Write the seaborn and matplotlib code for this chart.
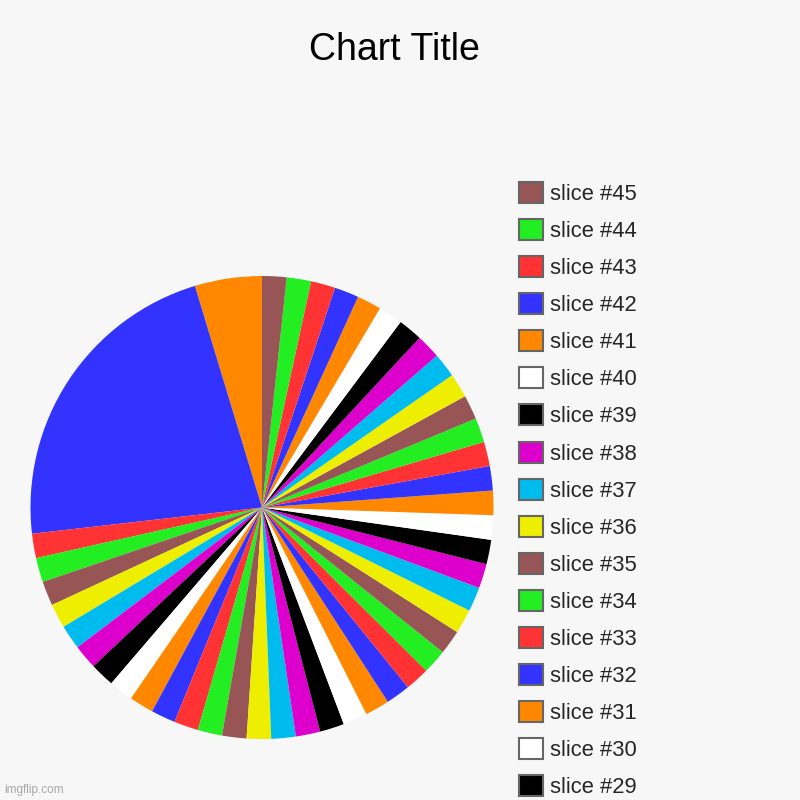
import matplotlib
matplotlib.use('Agg')
import matplotlib.pyplot as plt
from matplotlib.patches import Patch
import seaborn as sns

# slice labels and values (slice #1 starts at 12 o'clock, counter-clockwise)
labels = ['slice #%d' % i for i in range(1, 46)]
values = [2.75, 13,
          1, 1, 1, 1, 1, 1, 1, 1, 1, 1,
          1, 1, 1, 1, 1, 1, 1, 1, 1, 1,
          1, 1, 1, 1, 1, 1, 1, 1, 1, 1,
          1, 1, 1, 1, 1, 1, 1, 1, 1, 1,
          1, 1, 1]
palette = ['#ff8800', '#3333ff', '#ff3333', '#22ee22', '#975555',
           '#eeee00', '#00bbee', '#dd00cc', '#000000', '#ffffff']
colors = [palette[i % len(palette)] for i in range(len(labels))]
# legend lists slices from #45 down; only #45..#29 fit on the canvas
n_legend = 17

bg = '#f7f7f7'
sns.set_style('white')
plt.rcParams['font.family'] = ['Liberation Sans', 'DejaVu Sans']

fig = plt.figure(figsize=(8, 8), dpi=100, facecolor=bg)
ax = fig.add_axes([(262 - 231.5) / 800, (800 - 507.5 - 231.5) / 800,
                   463 / 800, 463 / 800])
ax.set_facecolor(bg)
ax.pie(values, colors=colors, startangle=90, counterclock=True,
       wedgeprops=dict(linewidth=0))
ax.set_xlim(-1, 1)
ax.set_ylim(-1, 1)
ax.set_aspect('equal')
ax.axis('off')

fig.text(394 / 800, 1 - 50 / 800, 'Chart Title', ha='center', va='center',
         fontsize=27, color='#000000')
fig.text(4 / 800, 4 / 800, 'imgflip.com', ha='left', va='bottom',
         fontsize=8.5, color='#a8a8a8')

handles = [Patch(facecolor=c, edgecolor='#666666', linewidth=1.5)
           for c in colors][::-1][:n_legend]
leg_labels = labels[::-1][:n_legend]
leg = fig.legend(handles, leg_labels, loc='upper left',
                 bbox_to_anchor=(519 / 800, 1 - 182 / 800),
                 frameon=False, fontsize=15.8, borderpad=0,
                 handlelength=1.09, handleheight=1.09,
                 handletextpad=0.3, labelspacing=0.645, borderaxespad=0)

fig.savefig('out.png', dpi=100, facecolor=bg)
